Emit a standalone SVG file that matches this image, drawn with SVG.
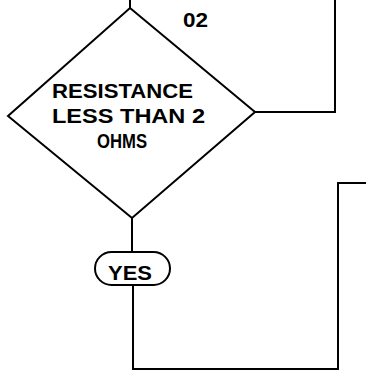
<svg xmlns="http://www.w3.org/2000/svg" width="366" height="372" viewBox="0 0 366 372">
<style>
.ln{fill:none;stroke:#000;stroke-width:2;stroke-linejoin:miter}
.t{font-family:"Liberation Sans",Arial,sans-serif;font-weight:bold;font-size:21px;fill:#000}
</style>
<rect width="366" height="372" fill="#fff"/>
<g id="connectors">
<path class="ln" d="M130,0 V8"/>
<path class="ln" d="M255,112 H335 V0"/>
<path class="ln" d="M132,218 V252"/>
<path class="ln" d="M133,285 V369 H338 V183 H366"/>
</g>
<g id="decision">
<path class="ln" d="M130,8 L255,112 L132,218 L8,116 Z"/>
<text class="t" x="52" y="98" textLength="141" lengthAdjust="spacingAndGlyphs">RESISTANCE</text>
<text class="t" x="52" y="123" textLength="153" lengthAdjust="spacingAndGlyphs">LESS THAN 2</text>
<text class="t" x="97" y="148" textLength="50" lengthAdjust="spacingAndGlyphs">OHMS</text>
</g>
<g id="label02">
<text class="t" x="183" y="27" textLength="25" lengthAdjust="spacingAndGlyphs">02</text>
</g>
<g id="yes">
<rect class="ln" x="95" y="252" width="75" height="33" rx="16.5"/>
<text class="t" x="108" y="280" textLength="44" lengthAdjust="spacingAndGlyphs">YES</text>
</g>
</svg>
